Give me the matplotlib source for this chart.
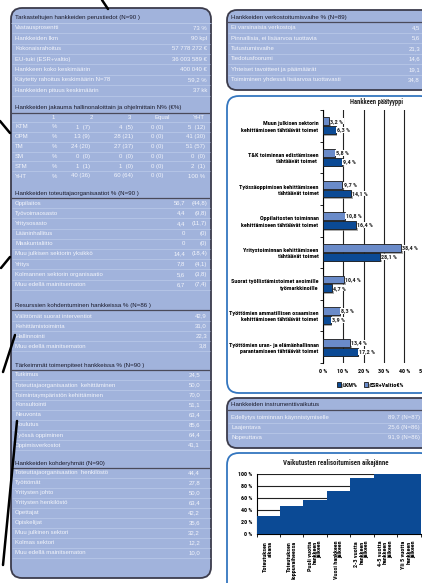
import os
import matplotlib
matplotlib.use('Agg')
import matplotlib.pyplot as plt
from matplotlib.patches import FancyBboxPatch
from matplotlib import font_manager
from matplotlib.font_manager import FontProperties
from matplotlib.textpath import TextPath
import matplotlib.patheffects as pe

# ---------------- data ----------------
basic_header = "Tarkasteltujen hankkeiden perustiedot (N=90 )"
basic_labels = ["Vastausprosentti", "Hankkeiden lkm", "Kokonaisrahoitus", "EU-tuki (ESR+valtio)",
                "Hankkeen koko keskimäärin", "Käytetty rahoitus keskimäärin N=78",
                "Hankkeiden pituus keskimäärin"]
basic_values = ["73 %", "90 kpl", "57 778 272 €", "36 003 589 €", "400 040 €", "59,2 %", "37 kk"]

jak_header = "Hankkeiden jakauma hallinonaloittain ja ohjelmittain N% (€%)"
jak_cols = ["1", "2", "3", "Equal", "YHT"]
jak_rows = ["KTM", "OPM", "TM", "SM", "STM", "YHT"]
jak_c1 = ["1  (7)", "13 (9)", "24 (20)", "0  (0)", "1  (1)", "40 (36)"]
jak_c2 = ["4  (5)", "28 (21)", "27 (37)", "0  (0)", "1  (0)", "60 (64)"]
jak_c3 = ["0 (0)", "0 (0)", "0 (0)", "0 (0)", "0 (0)", "0 (0)"]
jak_yht = ["5  (12)", "41 (30)", "51 (57)", "0  (0)", "2  (1)", "100 %"]

org_header = "Hankkeiden toteuttajaorganisaatiot % (N=90 )"
org_labels = ["Oppilaitos", "Työvoimaosasto", "Yritysosasto", "Lääninhallitus", "Maakuntaliitto",
              "Muu julkisen sektorin yksikkö", "Yritys", "Kolmannen sektorin organisaatio",
              "Muu edellä mainitsematon"]
org_values = ["56,7", "4,4", "4,4", "0", "0", "14,4", "7,8", "5,6", "6,7"]
org_prev = ["(44,8)", "(9,8)", "(11,7)", "(0)", "(0)", "(18,4)", "(4,1)", "(3,8)", "(7,4)"]

res_header = "Resurssien kohdentuminen hankkeissa % (N=86 )"
res_labels = ["Välittömät suorat interventiot", "Kehittämistoiminta", "Hallinnointi",
              "Muu edellä mainitsematon"]
res_values = ["42,9", "31,0", "22,3", "3,8"]

act_header = "Tärkeimmät toimenpiteet hankkeissa % (N=90 )"
act_labels = ["Tutkimus", "Toteuttajaorganisaation  kehittäminen", "Toimintaympäristön kehittäminen",
              "Konsultointi", "Neuvonta", "Koulutus", "Työssä oppiminen", "Oppimisverkostot"]
act_values = ["24,5", "50,0", "70,0", "51,1", "63,4", "85,6", "64,4", "41,1"]

grp_header = "Hankkeiden kohderyhmät (N=90)"
grp_labels = ["Toteuttajaorganisaation  henkilöstö", "Työttömät", "Yritysten johto",
              "Yritysten henkilöstö", "Opettajat", "Opiskelijat", "Muu julkinen sektori",
              "Kolmas sektori", "Muu edellä mainitsematon"]
grp_values = ["44,4", "27,8", "50,0", "63,4", "42,2", "35,6", "32,2", "12,2", "10,0"]

net_header = "Hankkeiden verkostoitumisvaihe % (N=89)"
net_labels = ["Ei varsinaisia verkostoja", "Pinnallisia, ei lisäarvoa tuottavia", "Tutustumisvaihe",
              "Tiedotusfoorumi", "Yhteiset tavoitteet ja päämäärät",
              "Toimiminen yhdessä lisäarvoa tuottavasti"]
net_values = ["4,5", "5,6", "21,3", "14,6", "19,1", "34,8"]

ins_header = "Hankkeiden instrumenttivaikutus"
ins_labels = ["Edellytys toiminnan käynnistymiselle", "Laajentava", "Nopeuttava"]
ins_values = ["89,7 (N=87)", "25,6 (N=86)", "91,9 (N=86)"]

type_title = "Hankkeen päätyyppi"
type_labels = ["Muun julkisen sektorin\nkehittämiseen tähtäävät toimet",
               "T&K toiminnan edistämiseen\ntähtäävät toimet ",
               "Työssäoppimisen kehittämiseen\ntähtäävät toimet",
               "Oppilaitosten toiminnan\nkehittämiseen tähtäävät toimet",
               "Yritystoiminnan kehittämiseen\ntähtäävät toimet",
               "Suorat työllistämistoimet avoimille\ntyömarkkinoille",
               "Työttömien ammatillisen osaamisen\nkehittämiseen tähtäävät toimet",
               "Työttömien uran- ja elämänhallinnan\nparantamiseen tähtäävät toimet"]
esr_values = [3.2, 5.8, 9.7, 10.8, 38.4, 10.4, 8.3, 13.4]
lkm_values = [6.3, 9.4, 14.1, 16.4, 28.1, 4.7, 3.9, 17.2]
type_xticks = [0, 10, 20, 30, 40, 50]
series_names = ["LKM%", "ESR+Valtio€%"]

time_title = "Vaikutusten realisoitumisen aikajänne"
time_labels = ["Toteutuksen\naikana", "Toteutuksen\nloppuvaiheessa", "Puoli vuotta\nhankkeen\njälkeen",
               "Vuosi hankkeen\njälkeen", "2-3 vuotta\nhankkeen\njälkeen", "4-5 vuotta\nhankkeen\njälkeen",
               "Yli 5 vuotta\nhankkeen\njälkeen"]
time_values = [30, 47, 57, 72, 93, 100, 100]
time_yticks = [0, 20, 40, 60, 80, 100]

# ---------------- fonts ----------------
names = {f.name for f in font_manager.fontManager.ttflist}
REG = 'Liberation Sans' if 'Liberation Sans' in names else 'DejaVu Sans'


def find_cond():
    prefs = ['liberationsansnarrow-bold.', 'liberationsansnarrow-bold', 'robotocondensed-bold',
             'dejavusanscondensed-bold.', 'opensans-condensedbold', 'opensanscondensed-bold',
             'notosans-condensedbold']
    files = [f.fname for f in font_manager.fontManager.ttflist]
    for p in prefs:
        for fn in files:
            b = os.path.basename(fn).lower().replace(' ', '').replace('_', '')
            if b.startswith(p) and 'italic' not in b:
                return fn
    for fn in files:
        b = os.path.basename(fn).lower()
        if ('narrow' in b or 'condensed' in b) and 'bold' in b and 'italic' not in b \
                and 'oblique' not in b and 'semi' not in b and 'extra' not in b:
            return fn
    return None


cf = find_cond()
if cf:
    CP = FontProperties(fname=cf)
else:
    CP = FontProperties(family=REG, weight='bold')


def fit_size(s, target_px, fp):
    p = fp.copy()
    p.set_size(10)
    w = max(TextPath((0, 0), line, prop=p).get_extents().width for line in s.split('\n'))
    return 10 * target_px / (w * 100 / 72)


CS = min(fit_size("Työttömien uran- ja elämänhallinnan", 89, CP), 5.6)


def cp(size=None):
    p = CP.copy()
    p.set_size(size if size else CS)
    return p


# ---------------- style ----------------
PANEL = '#a1b3dc'
BORDER = '#3c3c4c'
ROWTXT = '#f3f5fb'
HEADTXT = '#1a1a2a'
SEP = '#bccbea'
DARKSEP = '#4a4a5a'
LIGHTBAR = '#6a8bc9'
DARKBAR = '#0b4a95'
CHARTBORDER = '#3476bf'
FS = 4.3

W, H = 422, 583
fig = plt.figure(figsize=(W / 100, H / 100), dpi=100)
bg = fig.add_axes([0, 0, 1, 1])
bg.set_xlim(0, W)
bg.set_ylim(H, 0)
bg.axis('off')


def ax_at(x0, y0, x1, y1):
    return fig.add_axes([x0 / W, 1 - y1 / H, (x1 - x0) / W, (y1 - y0) / H])


def panel(x0, y0, x1, y1, fc, ec, r=9, lw=1.3):
    p = FancyBboxPatch((x0, y0), x1 - x0, y1 - y0,
                       boxstyle=f"round,pad=0,rounding_size={r}",
                       fc=fc, ec=ec, lw=lw, zorder=1)
    bg.add_patch(p)


def txt(x, y, s, ha='left', color=ROWTXT, fs=FS):
    bg.text(x, y, s, ha=ha, va='center', color=color, fontsize=fs, family=REG, zorder=5)


def hline(y, x0, x1, color=SEP, lw=0.5):
    bg.plot([x0, x1], [y, y], color=color, lw=lw, zorder=3, solid_capstyle='butt')


# ---------------- left panel ----------------
LX0, LX1 = 11, 211
panel(LX0, 8, LX1, 578, PANEL, BORDER, r=11)


def section(header, hy, labels, values, y0, step, vx=207, dark=True, prev=None, px=None):
    txt(15, hy, header, color=HEADTXT, fs=FS + 0.1)
    hline(hy + 4.5, LX0, LX1, DARKSEP if dark else SEP, 0.9 if dark else 0.6)
    for i, (lab, val) in enumerate(zip(labels, values)):
        y = y0 + step * i
        txt(15, y, lab)
        if prev is None:
            txt(vx, y, val, ha='right')
        else:
            txt(px, y, val, ha='right')
            txt(vx, y, prev[i], ha='right')
        hline(y + step / 2, LX0 + 1, LX1 - 1)


section(basic_header, 18, basic_labels, basic_values, 28, 10.4, dark=False)

# jakauma table
txt(15, 108, jak_header, color=HEADTXT, fs=FS + 0.1)
hline(113, LX0, LX1, DARKSEP, 0.9)
col_hdr_x = [55, 93, 131, 170, 205]
for cx, c in zip(col_hdr_x, jak_cols):
    txt(cx, 117.5, c, ha='right')
hline(122, LX0 + 1, LX1 - 1)
for i, r in enumerate(jak_rows):
    y = 127 + 9.8 * i
    txt(15, y, r)
    txt(52, y, "%")
    txt(90, y, jak_c1[i], ha='right')
    txt(133, y, jak_c2[i], ha='right')
    txt(163, y, jak_c3[i], ha='right')
    txt(205, y, jak_yht[i], ha='right')
    if i < len(jak_rows) - 1:
        hline(y + 4.9, LX0 + 1, LX1 - 1)

section(org_header, 193, org_labels, org_values, 203, 10.2, prev=org_prev, px=185)
section(res_header, 305, res_labels, res_values, 316, 10.0)
section(act_header, 365, act_labels, act_values, 375, 10.0, vx=200)
section(grp_header, 463, grp_labels, grp_values, 472.5, 10.0, vx=200)

# ---------------- right: network panel ----------------
RX0, RX1 = 227, 432
panel(RX0, 10, RX1, 90, PANEL, BORDER, r=10)
txt(231, 17, net_header, color=HEADTXT, fs=FS + 0.1)
hline(21.5, RX0, W, DARKSEP, 0.9)
for i, (lab, val) in enumerate(zip(net_labels, net_values)):
    y = 27.5 + 10.5 * i
    txt(231, y, lab)
    txt(420, y, val, ha='right')
    if i < len(net_labels) - 1:
        hline(y + 5.2, RX0 + 1, W)

# chart panel 1
panel(RX0, 96, RX1, 393, 'white', CHARTBORDER, r=12)

# instrument panel
panel(RX0, 398, RX1, 448, PANEL, BORDER, r=10)
txt(231, 405, ins_header, color=HEADTXT, fs=FS + 0.1)
hline(410, RX0, W, DARKSEP, 0.9)
for i, (lab, val) in enumerate(zip(ins_labels, ins_values)):
    y = 418 + 10 * i
    txt(231, y, lab)
    txt(420, y, val, ha='right')
    if i < len(ins_labels) - 1:
        hline(y + 5, RX0 + 1, W)

# chart panel 2
panel(RX0, 453, RX1, 596, 'white', CHARTBORDER, r=12)

# decorative strokes
for (xs, ys) in [([102, 108], [0, 9]), ([0, 10], [121, 133]), ([1, 10], [268, 257]),
                 ([15, 3], [335, 372]), ([17, 3], [421, 565])]:
    bg.plot(xs, ys, color='black', lw=1.8, zorder=6, solid_capstyle='round')

# ---------------- chart 1: horizontal bars ----------------
ax1 = ax_at(322.7, 110, 424.7, 363)
ax1.set_facecolor('none')
n = len(type_labels)
centers = [i + 0.5 for i in range(n)]
shadow = [pe.SimplePatchShadow(offset=(1.2, -1.2), shadow_rgbFace='#888888', alpha=0.7), pe.Normal()]
b_esr = ax1.barh([c - 0.14 for c in centers], esr_values, height=0.25, color=LIGHTBAR,
                 edgecolor='#1a1a1a', lw=0.6, zorder=3, label=series_names[1])
b_lkm = ax1.barh([c + 0.14 for c in centers], lkm_values, height=0.25, color=DARKBAR,
                 edgecolor='#1a1a1a', lw=0.6, zorder=3, label=series_names[0])
for b in list(b_esr) + list(b_lkm):
    b.set_path_effects(shadow)
for vals, off in ((esr_values, -0.14), (lkm_values, 0.14)):
    for c, v in zip(centers, vals):
        ax1.text(v + 0.5, c + off, f"{v:.1f} %".replace('.', ','), va='center', ha='left',
                 fontproperties=cp(), color='#222222', zorder=4,
                 bbox=dict(fc='white', ec='none', pad=0.3))
ax1.set_xlim(0, 50)
ax1.set_ylim(n, 0)
ax1.set_xticks(type_xticks)
ax1.set_xticklabels([f"{t} %" for t in type_xticks], fontproperties=cp())
ax1.tick_params(axis='x', length=0, pad=4)
ax1.set_yticks(range(n + 1))
ax1.set_yticklabels([])
ax1.set_yticks(centers, minor=True)
ax1.set_yticklabels(type_labels, minor=True, fontproperties=cp(), linespacing=1.35)
ax1.tick_params(axis='y', which='major', length=2, width=0.6, direction='out')
ax1.tick_params(axis='y', which='minor', length=0, pad=3.0)
ax1.grid(axis='x', color='#222222', lw=0.8)
ax1.set_axisbelow(True)
for s in ['top', 'right', 'bottom']:
    ax1.spines[s].set_visible(False)
ax1.spines['left'].set_linewidth(0.8)
bg.text(377, 102.5, type_title, ha='center', va='center',
        fontproperties=cp(fit_size(type_title, 52, CP)), color='#222222', zorder=5)
ax1.legend(handles=[b_lkm, b_esr], labels=series_names, ncol=2, frameon=False,
           loc='center', bbox_to_anchor=(0.47, -0.087),
           handlelength=0.7, handleheight=0.7, columnspacing=1.0, handletextpad=0.3,
           prop=cp())

# ---------------- chart 2: stepped area ----------------
ax2 = ax_at(256.5, 474, 420.5, 534)
ax2.set_facecolor('none')
m = len(time_values)
ax2.bar(range(m), time_values, width=1.0, align='edge', color=DARKBAR, zorder=3, lw=0)
ax2.set_xlim(0, m)
ax2.set_ylim(0, 100)
ax2.set_yticks(time_yticks)
ax2.set_yticklabels([f"{t} %" for t in time_yticks], fontproperties=cp())
ax2.tick_params(axis='y', length=0, pad=3)
ax2.set_xticks(range(m + 1))
ax2.set_xticklabels([])
ax2.tick_params(axis='x', which='major', length=2.5, width=0.6, direction='out')
ax2.set_xticks([i + 0.5 for i in range(m)], minor=True)
ax2.set_xticklabels(time_labels, minor=True, rotation=90, fontproperties=cp(),
                    va='top', ha='center', multialignment='right', linespacing=1.0)
ax2.tick_params(axis='x', which='minor', length=0, pad=5)
ax2.grid(axis='y', color='#222222', lw=0.8)
ax2.set_axisbelow(True)
for s in ['top', 'right']:
    ax2.spines[s].set_visible(False)
ax2.spines['left'].set_linewidth(0.8)
ax2.spines['bottom'].set_linewidth(0.8)
bg.text(336, 463, time_title, ha='center', va='center',
        fontproperties=cp(fit_size(time_title, 106, CP)), color='#222222', zorder=5)

fig.savefig('out.png', dpi=100)
